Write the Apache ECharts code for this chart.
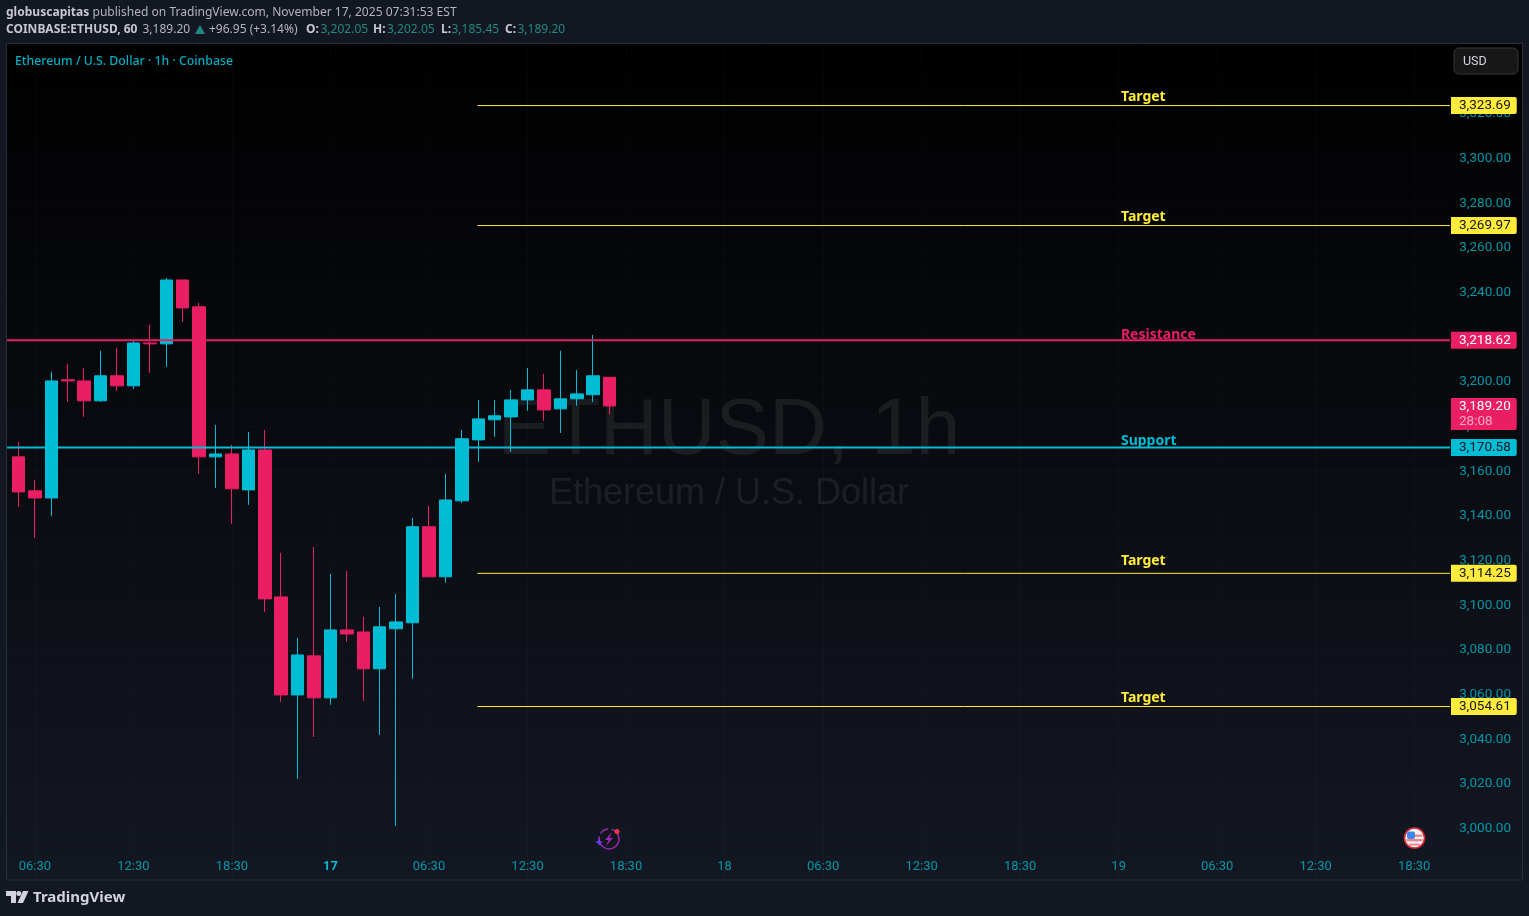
<!DOCTYPE html>
<html>
<head>
<meta charset="utf-8">
<style>
html,body{margin:0;padding:0;background:#131722;}
#chart{width:1529px;height:916px;}
</style>
</head>
<body>
<div id="chart"></div>
<script src="https://cdn.jsdelivr.net/npm/echarts@6/dist/echarts.min.js"></script>
<script>
// candles: [open, close, low, high]
const candles = [
  [3166.4,3150.7,3144.0,3173.1],[3151.2,3148.0,3130.1,3156.1],[3148.0,3200.4,3140.0,3204.5],[3200.9,3200.4,3191.0,3208.0],
  [3200.4,3191.5,3184.3,3206.2],[3191.5,3202.7,3191.0,3213.9],[3202.7,3198.2,3195.9,3215.2],[3198.2,3217.4,3196.8,3218.3],
  [3217.4,3217.0,3204.0,3225.5],[3217.0,3245.6,3206.7,3246.5],[3245.6,3233.1,3226.8,3245.6],[3233.6,3166.4,3158.8,3235.4],
  [3166.4,3167.7,3152.5,3180.7],[3167.7,3152.1,3136.4,3171.8],[3151.6,3169.5,3144.9,3177.6],[3169.5,3102.8,3097.0,3178.5],
  [3103.7,3059.8,3056.7,3123.4],[3059.8,3077.7,3022.2,3085.4],[3077.3,3058.5,3041.0,3126.1],[3058.5,3088.9,3055.4,3114.0],
  [3088.9,3087.1,3083.6,3115.4],[3088.0,3071.5,3057.1,3094.8],[3071.5,3090.3,3041.9,3099.2],[3089.4,3092.5,3001.2,3105.0],
  [3092.1,3135.1,3067.0,3139.1],[3135.1,3112.7,3112.7,3144.5],[3112.7,3147.1,3110.0,3158.8],[3146.7,3174.5,3145.8,3178.5],
  [3174.0,3183.4,3164.2,3191.9],[3183.0,3184.8,3175.4,3191.9],[3184.3,3191.9,3168.6,3196.4],[3191.9,3196.4,3187.0,3206.2],
  [3196.4,3187.4,3182.5,3203.6],[3187.9,3192.4,3177.1,3213.9],[3192.4,3194.6,3189.2,3205.4],[3194.2,3202.7,3191.0,3221.0],
  [3202.05,3189.20,3185.45,3202.05]
];
const xTickIdx = [1,7,13,19,25,31,37,43,49,55,61,67,73,79,85];
const xTickLabels = ['06:30','12:30','18:30','17','06:30','12:30','18:30','18','06:30','12:30','18:30','19','06:30','12:30','18:30'];
const yTicks = [3000,3020,3040,3060,3080,3100,3120,3140,3160,3180,3200,3220,3240,3260,3280,3300,3320];

const levelPrices = [3323.69,3269.97,3218.62,3170.58,3114.25,3054.61];
const levelNames = ['Target','Target','Resistance','Support','Target','Target'];
const levelNamePrices = [3327.5,3273.8,3221.0,3173.5,3119.8,3058.4];
const lastPrice = 3189.20;
const countdown = '28:08';

const TEAL = '#00bcd4', PINK = '#e91e63', YELLOW = '#ffeb3b';
const levelColors = [YELLOW,YELLOW,PINK,TEAL,YELLOW,YELLOW];
const levelTagText = ['#131722','#131722','#ffffff','#131722','#131722','#131722'];
const levelWidths = [1,1,2,2,1,1];

// x axis runs in candle numbers
const xMin = -0.700, xMax = 87.18, targetStart = 27.95, nameX = 67.14;
const font = 'Roboto, sans-serif';
const headFont = '"Noto Sans", sans-serif';

const chart = echarts.init(document.getElementById('chart'));

function fmt(v){
  return v.toLocaleString('en-US',{minimumFractionDigits:2,maximumFractionDigits:2});
}

const levelSeries = levelPrices.map(function(p,i){
  const startX = levelWidths[i] === 2 ? xMin : targetStart;
  return {
    type:'line', data:[[startX,p],[xMax,p]], showSymbol:false, clip:false, silent:true, z:4,
    lineStyle:{color:levelColors[i],width:levelWidths[i]},
    endLabel:{
      show:true, formatter:fmt(p), distance:1, align:'left', verticalAlign:'middle',
      fontFamily:font, fontSize:13.5, color:levelTagText[i], backgroundColor:levelColors[i],
      padding:[2,6,1,8], borderRadius:[0,2,2,0]
    }
  };
});

// second header row, placed piece by piece
function headPiece(x,text,fill,weight){
  return {type:'text',z:10,x:x,y:29.5,style:{
    text:text,verticalAlign:'middle',font:(weight||'normal')+' 12px '+headFont,fill:fill
  }};
}
const GREY = '#b2b5be', LIGHT = '#c5c8d0', GREEN = '#1f8a7f';

const option = {
  animation:false,
  backgroundColor:'#131722',
  title:[
    {text:'ETHUSD, 1h', left:724, top:427, textAlign:'center', textVerticalAlign:'middle', z:0,
     textStyle:{fontFamily:'"Liberation Sans", sans-serif',fontSize:80,fontWeight:'normal',color:'rgba(255,255,255,0.075)'}},
    {text:'Ethereum / U.S. Dollar', left:724, top:489, textAlign:'center', textVerticalAlign:'middle', z:0,
     textStyle:{fontFamily:'"Liberation Sans", sans-serif',fontSize:36,fontWeight:'normal',color:'rgba(255,255,255,0.075)'}}
  ],
  grid:{left:7,right:79,top:44,bottom:36},
  xAxis:{
    type:'value', min:xMin, max:xMax,
    axisLine:{show:false},
    axisTick:{show:false,customValues:xTickIdx},
    splitLine:{show:true,lineStyle:{color:'rgba(255,255,255,0.018)',width:1}},
    axisLabel:{
      customValues:xTickIdx, inside:true, margin:7, color:'#0097a7', fontFamily:font, fontSize:13,
      formatter:function(v){
        const s = xTickLabels[xTickIdx.indexOf(v)];
        return s === '17' ? '{d|17}' : s;
      },
      rich:{d:{color:TEAL,fontWeight:'bold',fontFamily:font,fontSize:13}}
    }
  },
  yAxis:{
    type:'value', position:'right', min:2976.93, max:3351.27,
    axisLine:{show:false},
    axisTick:{show:false,customValues:yTicks},
    splitLine:{show:true,lineStyle:{color:'rgba(255,255,255,0.018)',width:1}},
    axisLabel:{
      customValues:yTicks, margin:61, align:'right', color:'#0097a7', fontFamily:font, fontSize:13.5,
      formatter:function(v){return fmt(v);}
    }
  },
  series:[
    {
      type:'candlestick', barWidth:13, z:3, silent:true,
      data:candles.map(function(c,i){return [i,c[0],c[1],c[2],c[3]];}),
      itemStyle:{color:TEAL,color0:PINK,borderColor:TEAL,borderColor0:PINK,borderWidth:1}
    }
  ].concat(levelSeries).concat([
    {
      type:'scatter', symbolSize:0, silent:true, z:5, clip:false, itemStyle:{opacity:1},
      data:levelNames.map(function(n,i){
        return {value:[nameX,levelNamePrices[i]],name:n,label:{color:levelColors[i]}};
      }),
      label:{show:true,position:'right',distance:0,formatter:'{b}',fontFamily:headFont,fontSize:14,fontWeight:'bold'}
    },
    {
      type:'line', data:[[36,lastPrice],[xMax,lastPrice]], showSymbol:false, clip:false, silent:true, z:6,
      lineStyle:{opacity:0},
      endLabel:{
        show:true, distance:1, align:'left', verticalAlign:'middle', offset:[0,8],
        formatter:'{p|'+fmt(lastPrice)+'}\n{t|'+countdown+'}',
        backgroundColor:PINK, padding:[1,6,1,8], borderRadius:[0,2,2,0],
        rich:{
          p:{fontFamily:font,fontSize:13.5,color:'#fff',lineHeight:15},
          t:{fontFamily:font,fontSize:13.5,color:'#f8a8c4',lineHeight:15}
        }
      }
    }
  ]),
  graphic:[
    // chart pane
    {type:'rect',z:-10,shape:{x:6.5,y:43.5,width:1516,height:836.5},
     style:{stroke:'#2a2e39',lineWidth:1,fill:new echarts.graphic.LinearGradient(0,0,0,1,[
       {offset:0,color:'#000000'},{offset:1,color:'#131722'}])}},
    // header
    {type:'text',z:10,x:6,y:13,style:{
      text:'{b|globuscapitas} published on TradingView.com, November 17, 2025 07:31:53 EST',
      verticalAlign:'middle',font:'12.05px '+headFont,fill:GREY,
      rich:{b:{font:'bold 12.05px '+headFont,fill:LIGHT}}
    }},
    headPiece(6,'COINBASE:ETHUSD, 60',LIGHT,'bold'),
    headPiece(142.5,'3,189.20',GREY),
    {type:'polygon',z:10,shape:{points:[[200,25],[205,34],[195,34]]},style:{fill:GREEN}},
    headPiece(209,'+96.95 (+3.14%)',GREY),
    headPiece(306,'O:',LIGHT,'bold'), headPiece(320.5,'3,202.05',GREEN),
    headPiece(373,'H:',LIGHT,'bold'), headPiece(387,'3,202.05',GREEN),
    headPiece(441,'L:',LIGHT,'bold'), headPiece(451.5,'3,185.45',GREEN),
    headPiece(505,'C:',LIGHT,'bold'), headPiece(517.5,'3,189.20',GREEN),
    {type:'text',z:10,x:15,y:61.5,style:{
      text:'Ethereum / U.S. Dollar · 1h · Coinbase',verticalAlign:'middle',
      font:'500 12.3px '+headFont,fill:'#00adc4'
    }},
    // USD button
    {type:'rect',z:10,shape:{x:1454,y:48,width:64,height:26,r:5},style:{fill:'#171717',stroke:'#34373e',lineWidth:1}},
    {type:'text',z:11,x:1463,y:62,style:{text:'USD',verticalAlign:'middle',font:'12.5px '+font,fill:'#d1d4dc'}},
    // TradingView logo
    {type:'polygon',z:10,shape:{points:[[6,891],[16,891],[16,903],[11,903],[11,896],[6,896]]},style:{fill:'#d1d4dc'}},
    {type:'circle',z:10,shape:{cx:18.8,cy:893.5,r:2.5},style:{fill:'#d1d4dc'}},
    {type:'polygon',z:10,shape:{points:[[23,891],[28.5,891],[23,903],[17.5,903]]},style:{fill:'#d1d4dc'}},
    {type:'text',z:10,x:33,y:898,style:{text:'TradingView',verticalAlign:'middle',font:'bold 15px '+headFont,fill:'#d1d4dc'}},
    // lightning icon
    {type:'arc',z:10,shape:{cx:609,cy:839,r:10,startAngle:-1.3,endAngle:3.4},style:{stroke:'#9c27b0',lineWidth:1.5,fill:null}},
    {type:'arc',z:10,shape:{cx:609,cy:839,r:10,startAngle:3.7,endAngle:4.6},style:{stroke:'#9c27b0',lineWidth:1.5,fill:null}},
    {type:'polygon',z:10,shape:{points:[[612,832],[605,840],[608.5,840],[606,846],[613,838],[609.5,838]]},style:{fill:'#9c27b0'}},
    {type:'polygon',z:10,shape:{points:[[599,838],[600.2,841],[603,842],[600.2,843],[599,846],[597.8,843],[595,842],[597.8,841]]},style:{fill:'#6a3df0'}},
    {type:'circle',z:11,shape:{cx:617,cy:831.5,r:2.5},style:{fill:'#f23645'}},
    // flag icon
    {type:'circle',z:10,shape:{cx:1414.5,cy:838,r:10},style:{fill:'#f4f4f6',stroke:'#d9283a',lineWidth:1.6}},
    {type:'rect',z:11,shape:{x:1407,y:834.5,width:15,height:2.4},style:{fill:'#f0868e'}},
    {type:'rect',z:11,shape:{x:1406.5,y:839,width:16,height:2.4},style:{fill:'#f0868e'}},
    {type:'rect',z:11,shape:{x:1409,y:843.6,width:11,height:2},style:{fill:'#f0868e'}},
    {type:'rect',z:12,shape:{x:1407,y:831.5,width:8,height:7.5,r:2},style:{fill:'#3f86e8'}}
  ]
};

chart.setOption(option);
</script>
</body>
</html>
